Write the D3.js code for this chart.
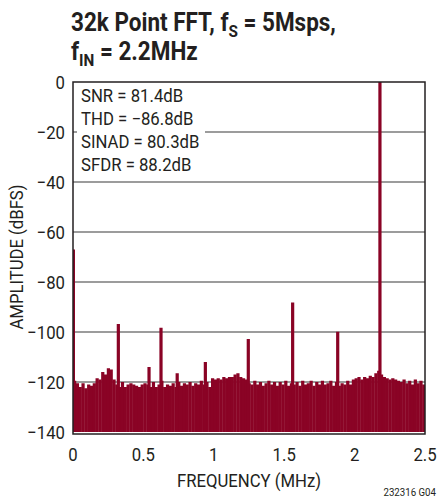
<!DOCTYPE html>
<html>
<head>
<meta charset="utf-8">
<script src="https://cdn.jsdelivr.net/npm/d3@7"></script>
<style>
  body { margin: 0; background: #fff; }
  text { font-family: "Liberation Sans Narrow", Roboto, sans-serif; fill: #231f20; }
</style>
</head>
<body>
<script>
// FFT noise floor, one value per 0.02MHz bin (dBFS)
var binWidth = 0.02;
var noiseFloor = [
  -119.5, -120.5, -122, -120.5, -122.5, -121, -121.5, -120.5, -118.5, -119,
  -116, -117, -114.5, -115, -119, -121, -122, -120, -122, -121,
  -120.5, -121, -121.5, -122, -121, -120.5, -121, -122, -120, -122,
  -121, -119.5, -122, -121, -121.5, -120.5, -122, -120, -121.5, -120.5,
  -121, -120, -121.5, -120.5, -121, -119.5, -121, -120, -122, -118.5,
  -119, -118.5, -119, -118, -118.5, -118, -118, -117, -116.5, -118,
  -118.5, -119, -120.5, -121, -119.5, -121, -120, -121.5, -120.5, -119.5,
  -121, -120, -121.5, -120, -121, -119.5, -121.5, -120.5, -121, -120,
  -121.5, -119.5, -121, -120.5, -119.5, -121.5, -120, -121, -119.5, -121,
  -120.5, -119.5, -121.5, -120, -121.5, -120.5, -121, -119.5, -121, -119,
  -118.5, -118, -119, -118, -118.5, -117.5, -118, -116.5, -115.5, -117,
  -118, -118.5, -119, -118.5, -119, -119.5, -120, -119, -120.5, -119.5,
  -121, -119, -120.5, -119.5, -121
];

// spurs and fundamental
var spurFreqs = [0, 0.322, 0.54, 0.625, 0.74, 0.94, 1.245, 1.56, 1.88, 2.18];
var spurAmps  = [-67, -96.8, -114, -98.3, -116.5, -112, -102.8, -88.2, -99.9, 0];

var xTicks = [0, 0.5, 1, 1.5, 2, 2.5];
var yTicks = [0, -20, -40, -60, -80, -100, -120, -140];
var statLines = ['SNR = 81.4dB', 'THD = \u221286.8dB', 'SINAD = 80.3dB', 'SFDR = 88.2dB'];

var width = 437, height = 500;
var plotL = 73, plotR = 425, plotT = 82, plotB = 432;
var barColor = '#8a0325';
var gridColor = '#3a3a3a';
var narrow = 0.88;   // squeeze text, no condensed face installed

var svg = d3.select('body')
  .append('svg')
    .attr('width', width)
    .attr('height', height);

var x = d3.scaleLinear().domain([0, 2.5]).range([plotL, plotR]);
var y = d3.scaleLinear().domain([-140, 0]).range([plotB, plotT]);

// Title
var title = svg.append('text')
  .attr('transform', 'translate(71,31) scale(0.9,1)')
  .style('font-size', '25px')
  .style('font-weight', 'bold');
title.append('tspan').text('32k Point FFT, f');
title.append('tspan').text('S').style('font-size', '17px').attr('dy', 6);
title.append('tspan').text(' = 5Msps,').attr('dy', -6);

var title2 = svg.append('text')
  .attr('transform', 'translate(71,60) scale(0.9,1)')
  .style('font-size', '25px')
  .style('font-weight', 'bold');
title2.append('tspan').text('f');
title2.append('tspan').text('IN').style('font-size', '17px').attr('dy', 6);
title2.append('tspan').text(' = 2.2MHz').attr('dy', -6);

// gridlines
svg.selectAll('.grid')
  .data(yTicks.filter(function(d) { return d != 0 && d != -140; }))
  .enter()
  .append('line')
    .attr('class', 'grid')
    .attr('x1', plotL)
    .attr('x2', plotR)
    .attr('y1', function(d) { return y(d); })
    .attr('y2', function(d) { return y(d); })
    .attr('stroke', gridColor)
    .attr('stroke-width', 1.2);

// noise floor bars
var bw = x(binWidth) - x(0);
svg.selectAll('.noise')
  .data(noiseFloor)
  .enter()
  .append('rect')
    .attr('class', 'noise')
    .attr('x', function(d, i) { return x(i * binWidth); })
    .attr('y', function(d) { return y(d); })
    .attr('width', function(d, i) { return i == noiseFloor.length - 1 ? bw : bw + 0.4; })
    .attr('height', function(d) { return y(-140) - y(d); })
    .attr('fill', barColor);

// spurs
svg.selectAll('.spur')
  .data(spurFreqs)
  .enter()
  .append('rect')
    .attr('class', 'spur')
    .attr('x', function(d) { return d == 0 ? x(d) : x(d) - 1.6; })
    .attr('y', function(d, i) { return y(spurAmps[i]); })
    .attr('width', function(d) { return d == 0 ? 2 : 3.2; })
    .attr('height', function(d, i) { return y(-140) - y(spurAmps[i]); })
    .attr('fill', barColor);

// stats box
svg.append('rect')
  .attr('x', plotL + 4)
  .attr('y', plotT + 3)
  .attr('width', 128)
  .attr('height', 92)
  .attr('fill', '#fff');

svg.selectAll('.stat')
  .data(statLines)
  .enter()
  .append('text')
    .attr('class', 'stat')
    .attr('transform', function(d, i) { return 'translate(81,' + (102 + i * 23) + ') scale(0.93,1)'; })
    .style('font-size', '18px')
    .text(function(d) { return d; });

// frame
svg.append('rect')
  .attr('x', plotL)
  .attr('y', plotT)
  .attr('width', plotR - plotL)
  .attr('height', plotB - plotT + 2)
  .attr('fill', 'none')
  .attr('stroke', '#231f20')
  .attr('stroke-width', 1.5);

// y tick labels
svg.selectAll('.ylab')
  .data(yTicks)
  .enter()
  .append('text')
    .attr('class', 'ylab')
    .attr('transform', function(d) { return 'translate(65,' + y(d) + ') scale(' + narrow + ',1)'; })
    .attr('dy', '0.36em')
    .attr('text-anchor', 'end')
    .style('font-size', '19px')
    .text(function(d) { return d < 0 ? '\u2212' + (-d) : d; });

// x tick labels
svg.selectAll('.xlab')
  .data(xTicks)
  .enter()
  .append('text')
    .attr('class', 'xlab')
    .attr('transform', function(d) { return 'translate(' + x(d) + ',461) scale(' + narrow + ',1)'; })
    .attr('text-anchor', 'middle')
    .style('font-size', '19px')
    .text(function(d) { return d; });

// axis titles
svg.append('text')
  .attr('transform', 'translate(' + ((plotL + plotR) / 2) + ',487) scale(' + narrow + ',1)')
  .attr('text-anchor', 'middle')
  .style('font-size', '19px')
  .text('FREQUENCY (MHz)');

svg.append('text')
  .attr('transform', 'translate(23,' + ((plotT + plotB) / 2) + ') rotate(-90) scale(' + narrow + ',1)')
  .attr('text-anchor', 'middle')
  .style('font-size', '19px')
  .text('AMPLITUDE (dBFS)');

svg.append('text')
  .attr('transform', 'translate(436,496) scale(' + narrow + ',1)')
  .attr('text-anchor', 'end')
  .style('font-size', '11px')
  .text('232316 G04');
</script>
</body>
</html>
